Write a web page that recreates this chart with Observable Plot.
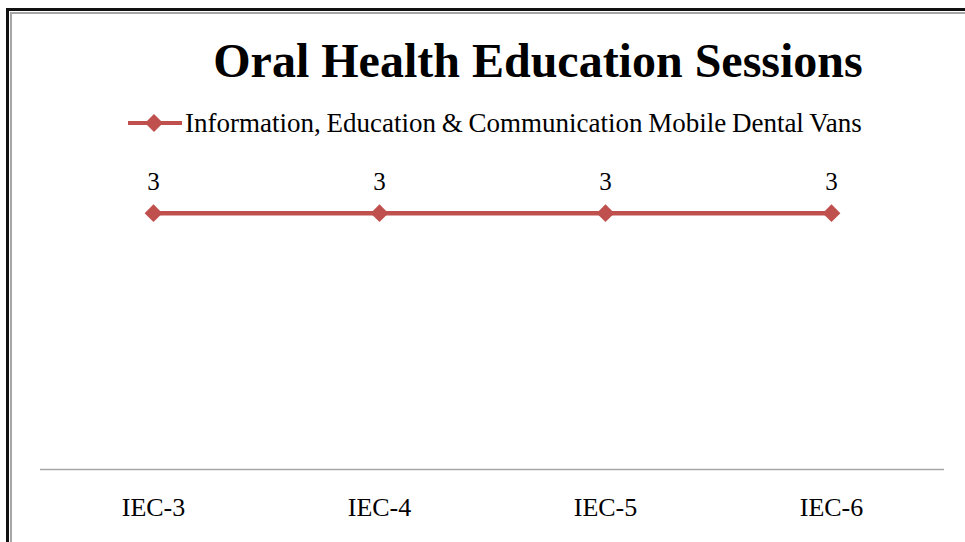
<!DOCTYPE html>
<html>
<head>
<meta charset="utf-8">
<script src="https://cdn.jsdelivr.net/npm/d3@7"></script>
<script src="https://cdn.jsdelivr.net/npm/@observablehq/plot@0.6"></script>
<style>
  html, body { margin: 0; padding: 0; background: #fff; }
  #frame { position: relative; width: 965px; height: 542px; overflow: hidden; background: #fff; font-family: "Liberation Serif", "DejaVu Serif", serif; }
  #outer { position: absolute; left: 6px; top: 8px; width: 980px; height: 600px; border-left: 3px solid #111; border-top: 3px solid #111; }
  #inner { position: absolute; left: 10px; top: 12px; width: 980px; height: 600px; border-left: 2px solid #a6a6a6; border-top: 2px solid #a6a6a6; }
  #title { position: absolute; left: 0; top: 33px; width: 1076px; text-align: center; font-weight: bold; font-size: 48px; line-height: 56px; color: #000; white-space: nowrap; }
  #legend { position: absolute; left: 128px; top: 108px; height: 30px; display: flex; align-items: center; white-space: nowrap; font-size: 27px; word-spacing: -1px; color: #000; }
  #legend svg { margin-right: 3px; }
  #chart { position: absolute; left: 0; top: 0; }
</style>
</head>
<body>
<div id="frame">
  <div id="outer"></div>
  <div id="inner"></div>
  <div id="title">Oral Health Education Sessions</div>
  <div id="legend"></div>
  <div id="chart"></div>
</div>
<script>
const categories = ["IEC-3", "IEC-4", "IEC-5", "IEC-6"];
const values = [3, 3, 3, 3];
const seriesName = "Information, Education & Communication Mobile Dental Vans";
const color = "#C0504D";

const data = categories.map((c, i) => ({category: c, value: values[i]}));

// legend
const legend = document.getElementById("legend");
legend.innerHTML = `<svg width="54" height="20"><line x1="0" y1="10" x2="54" y2="10" stroke="${color}" stroke-width="4"/><path d="M26,1 L35,10 L26,19 L17,10 Z" fill="${color}"/></svg><span>${seriesName.replace("&","&amp;")}</span>`;

const plot = Plot.plot({
  width: 965,
  height: 542,
  marginLeft: 40,
  marginRight: 21,
  marginTop: 170,
  marginBottom: 73,
  style: {background: "transparent", fontFamily: "Liberation Serif, serif", fontSize: "26px", color: "#000"},
  x: {type: "band", domain: categories, padding: 0, label: null, tickSize: 0, tickPadding: 28},
  y: {domain: [0, 3.5], axis: null},
  marks: [
    Plot.ruleY([0], {stroke: "#a6a6a6", strokeWidth: 1.5}),
    Plot.line(data, {x: "category", y: "value", stroke: color, strokeWidth: 4.5}),
    Plot.dot(data, {x: "category", y: "value", symbol: "diamond2", r: 8, fill: color, stroke: "none"}),
    Plot.text(data, {x: "category", y: "value", text: d => String(d.value), dy: -31, fill: "#000", fontSize: 25})
  ]
});
document.getElementById("chart").appendChild(plot);
</script>
</body>
</html>
